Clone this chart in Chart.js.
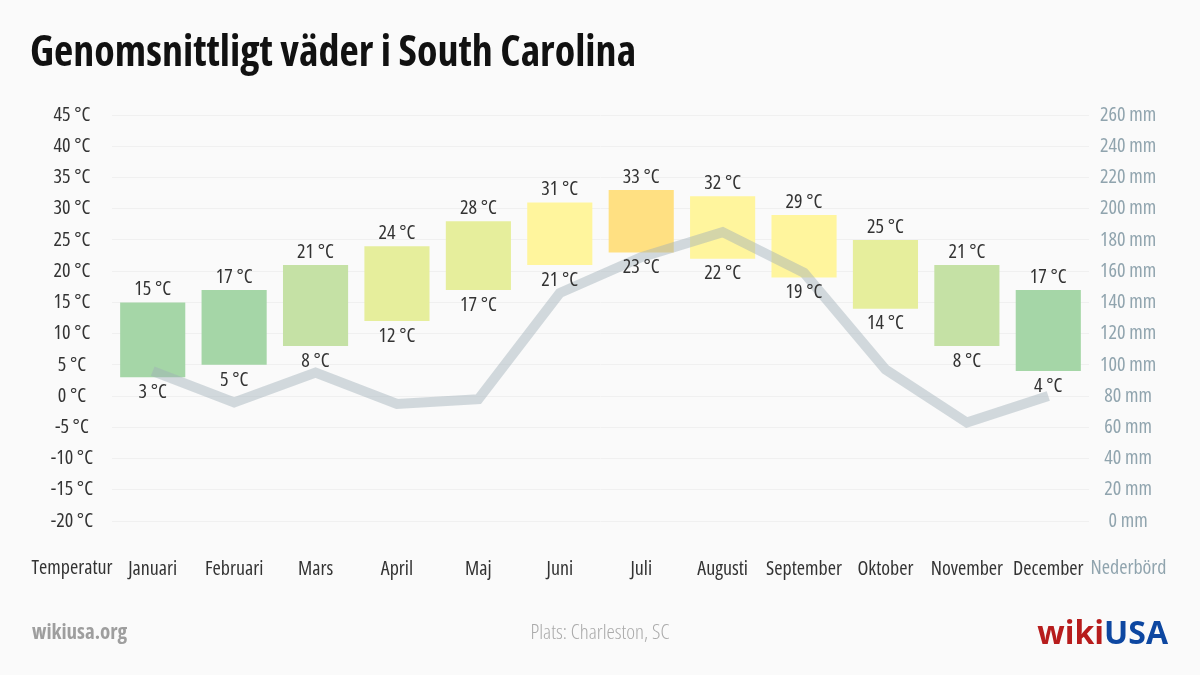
<!DOCTYPE html>
<html>
<head>
<meta charset="utf-8">
<script src="https://cdn.jsdelivr.net/npm/chart.js@4"></script>
<style>
  body { margin: 0; background: #fafafa; width: 1200px; height: 675px; overflow: hidden; position: relative;
         font-family: 'Open Sans', sans-serif; font-stretch: 75%; }
  #wrap { position: absolute; left: 0; top: 0; width: 1200px; height: 675px; }
  h1 { position: absolute; left: 30px; top: 21px; margin: 0; font-size: 42px; font-weight: bold; color: #111; }
  .foot { position: absolute; top: 617px; font-size: 21px; }
  #site { left: 32px; color: #9e9e9e; font-weight: bold; }
  #plats { left: 0; width: 1200px; text-align: center; color: #aaa; font-weight: 300; }
  #logo { right: 32px; top: 610px; font-size: 32px; font-weight: bold; font-stretch: 100%; }
</style>
</head>
<body>
<div id="wrap"><canvas id="meuGrafico"></canvas></div>
<h1>Genomsnittligt väder i South Carolina</h1>
<div class="foot" id="site">wikiusa.org</div>
<div class="foot" id="plats">Plats: Charleston, SC</div>
<div class="foot" id="logo"><span style="color:#b71c1c">wiki</span><span style="color:#0d47a1">USA</span></div>
<script>
const manader = ['Januari', 'Februari', 'Mars', 'April', 'Maj', 'Juni', 'Juli', 'Augusti', 'September', 'Oktober', 'November', 'December'];
const tempMax = [15, 17, 21, 24, 28, 31, 33, 32, 29, 25, 21, 17];
const tempMin = [3, 5, 8, 12, 17, 21, 23, 22, 19, 14, 8, 4];
const nederbord = [96, 76, 95, 75, 78, 146, 169, 185, 159, 97, 63, 80];
const stapelFarger = ['#a5d6a7', '#a5d6a7', '#c5e1a5', '#e6ee9c', '#e6ee9c', '#fff59d', '#ffe082', '#fff59d', '#fff59d', '#e6ee9c', '#c5e1a5', '#a5d6a7'];

// "condensed" läggs i weight så att fontsträngen blir "condensed 400 20px 'Open Sans'"
const typsnitt = "'Open Sans', sans-serif";
const smal = { family: typsnitt, size: 20, weight: 'condensed 400' };

const etiketter = {
    id: 'etiketter',
    afterDatasetsDraw(chart) {
        const ctx = chart.ctx;
        ctx.save();
        ctx.font = 'condensed 400 20px ' + typsnitt;
        ctx.fillStyle = '#333';
        ctx.textAlign = 'center';
        chart.getDatasetMeta(1).data.forEach((bar, i) => {
            const topp = Math.min(bar.y, bar.base);
            const botten = Math.max(bar.y, bar.base);
            ctx.textBaseline = 'bottom';
            ctx.fillText(tempMax[i] + ' °C', bar.x, topp - 3);
            ctx.textBaseline = 'top';
            ctx.fillText(tempMin[i] + ' °C', bar.x, botten + 5);
        });
        // axelrubriker under axlarna
        const yL = chart.scales.y, yR = chart.scales.y2;
        const rad = 568;
        ctx.textBaseline = 'middle';
        ctx.fillStyle = '#333';
        ctx.fillText('Temperatur', (yL.left + yL.right) / 2 + 16, rad);
        ctx.fillStyle = '#90a4ae';
        ctx.fillText('Nederbörd', (yR.left + yR.right) / 2 - 16, rad);
        ctx.restore();
    }
};

const ctx = document.getElementById('meuGrafico').getContext('2d');
new Chart(ctx, {
    data: {
        labels: manader,
        datasets: [{
            type: 'line',
            label: 'Nederbörd',
            data: nederbord,
            yAxisID: 'y2',
            borderColor: 'rgba(160,176,184,0.45)',
            borderWidth: 10,
            pointRadius: 0,
            tension: 0,
            order: 0
        }, {
            type: 'bar',
            label: 'Temperatur',
            data: tempMin.map((v, i) => [v, tempMax[i]]),
            backgroundColor: stapelFarger,
            yAxisID: 'y',
            barPercentage: 0.8,
            categoryPercentage: 1,
            order: 1
        }]
    },
    options: {
        responsive: true,
        maintainAspectRatio: false,
        animation: false,
        layout: { padding: { top: 115, left: 0, right: 0, bottom: 0 } },
        plugins: { legend: { display: false }, tooltip: { enabled: false } },
        scales: {
            x: {
                grid: { display: false },
                border: { display: false },
                ticks: { color: '#333', font: smal, padding: 28, maxRotation: 0, autoSkip: false },
                afterFit(scale) { scale.height = 154; }
            },
            y: {
                position: 'left',
                min: -20, max: 45,
                ticks: { stepSize: 5, color: '#333', font: smal, padding: 19, crossAlign: 'center', callback: v => v + ' °C' },
                grid: { color: '#f0f0f0', drawTicks: false },
                border: { display: false },
                afterFit(scale) { scale.width = 112; }
            },
            y2: {
                position: 'right',
                min: 0, max: 260,
                ticks: { stepSize: 20, color: '#90a4ae', font: smal, crossAlign: 'center', callback: v => v + ' mm' },
                grid: { display: false },
                border: { display: false },
                afterFit(scale) { scale.width = 111; }
            }
        }
    },
    plugins: [etiketter]
});
</script>
</body>
</html>
